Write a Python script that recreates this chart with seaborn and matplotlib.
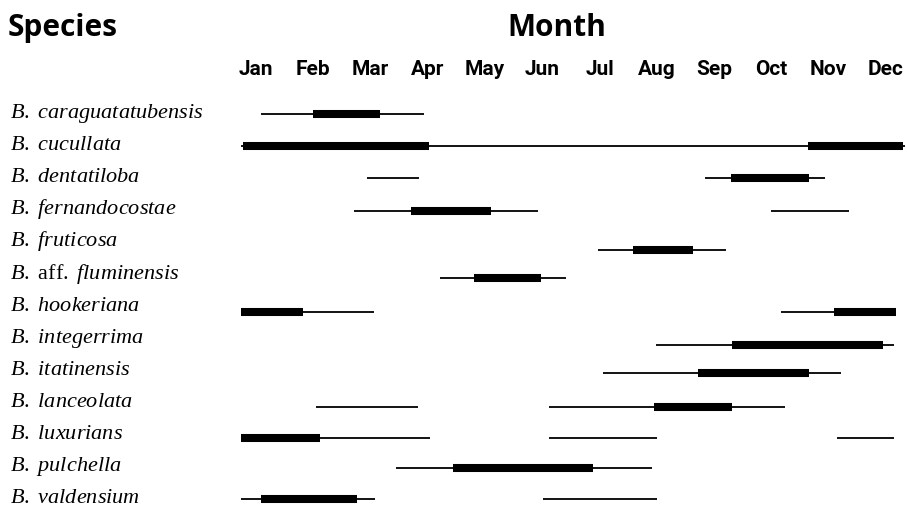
import matplotlib
matplotlib.use("Agg")
import matplotlib.pyplot as plt
import matplotlib.transforms as mtransforms
import numpy as np
import pandas as pd
import seaborn as sns

# Flowering phenology of Begonia species, months on a 0-12 scale
epithets = ["caraguatatubensis", "cucullata", "dentatiloba", "fernandocostae",
            "fruticosa", "fluminensis", "hookeriana", "integerrima",
            "itatinensis", "lanceolata", "luxurians", "pulchella", "valdensium"]
qualifiers = ["", "", "", "", "", "aff.", "", "", "", "", "", "", ""]

# Full flowering period (thin lines)
flowering = [
    [(0.36, 3.31)],
    [(0.0, 12.0)],
    [(2.28, 3.21), (8.38, 10.55)],
    [(2.04, 5.37), (9.58, 10.99)],
    [(6.46, 8.76)],
    [(3.60, 5.87)],
    [(0.0, 2.40), (9.76, 11.83)],
    [(7.50, 11.80)],
    [(6.54, 10.85)],
    [(1.36, 3.19), (5.57, 9.83)],
    [(0.0, 3.42), (5.57, 7.51), (10.77, 11.80)],
    [(2.80, 7.43)],
    [(0.0, 2.42), (5.46, 7.51)],
]

# Flowering peak (thick bars)
peak = [
    [(1.30, 2.51)],
    [(0.04, 3.40), (10.24, 11.96)],
    [(8.86, 10.26)],
    [(3.07, 4.52)],
    [(7.08, 8.17)],
    [(4.21, 5.43)],
    [(0.0, 1.12), (10.71, 11.83)],
    [(8.87, 11.60)],
    [(8.26, 10.27)],
    [(7.46, 8.88)],
    [(0.0, 1.42)],
    [(3.83, 6.36)],
    [(0.36, 2.10)],
]

months = ["Jan", "Feb", "Mar", "Apr", "May", "Jun",
          "Jul", "Aug", "Sep", "Oct", "Nov", "Dec"]

# Layout: vertical placement of each species' bars (row units, slightly uneven)
row_y = [0.0, 1.0, 1.99, 3.02, 4.24, 5.11, 6.17, 7.20, 8.07, 9.13, 10.10, 11.03, 11.99]


def segments_frame(spans):
    rows = []
    seg = 0
    for i, sp in enumerate(spans):
        for a, b in sp:
            rows.append({"row": row_y[i], "seg": seg, "x": a})
            rows.append({"row": row_y[i], "seg": seg, "x": b})
            seg += 1
    return pd.DataFrame(rows)


df_flow = segments_frame(flowering)
df_peak = segments_frame(peak)

sns.set_theme(style="white")
plt.rcParams["mathtext.fontset"] = "custom"
plt.rcParams["mathtext.rm"] = "Liberation Serif"
plt.rcParams["mathtext.it"] = "Liberation Serif:italic"

W, H = 907, 507
fig = plt.figure(figsize=(W / 100, H / 100), dpi=100)
ax_left, ax_right, ax_top = 241, 905, 98
ax = fig.add_axes([ax_left / W, 0.0, (ax_right - ax_left) / W, 1 - ax_top / H])

sns.lineplot(data=df_flow, x="x", y="row", units="seg", estimator=None,
             color="black", linewidth=1.3, solid_capstyle="butt",
             sort=False, ax=ax, legend=False)
sns.lineplot(data=df_peak, x="x", y="row", units="seg", estimator=None,
             color="black", linewidth=5.8, solid_capstyle="butt",
             sort=False, ax=ax, legend=False)

row_px0, row_step = 114, 32.1
ax.set_xlim(0, 12)
ax.set_ylim((H - row_px0) / row_step, (ax_top - row_px0) / row_step)
for s in ax.spines.values():
    s.set_visible(False)
ax.set_xlabel("")
ax.set_ylabel("")
ax.set_yticks([])

# Month labels along the top
ax.xaxis.tick_top()
ax.set_xticks(0.27 + 1.035 * np.arange(len(months)))
ax.set_xticklabels(months, fontfamily="Roboto", fontweight="bold",
                   fontsize=15, color="black")
ax.tick_params(axis="x", length=0, pad=14)

# Species names: italic binomial, qualifier upright
trans = mtransforms.blended_transform_factory(fig.transFigure, ax.transData)
for i, (q, ep) in enumerate(zip(qualifiers, epithets)):
    if q:
        label = r"$\mathit{B.}\ \mathrm{" + q + r"}\ \mathit{" + ep + r"}$"
    else:
        label = r"$\mathit{B.\ " + ep + r"}$"
    ax.text(10 / W, i + 0.125, label, transform=trans, fontsize=16,
            ha="left", va="baseline", color="black")

fig.text(8 / W, 1 - 28 / H, "Species", fontfamily="Open Sans",
         fontweight="bold", fontsize=21.5, ha="left", va="center",
         color="black")
fig.text(557 / W, 1 - 28 / H, "Month", fontfamily="Open Sans",
         fontweight="bold", fontsize=21.5, ha="center", va="center",
         color="black")

fig.savefig("out.png", dpi=100, facecolor="white")
